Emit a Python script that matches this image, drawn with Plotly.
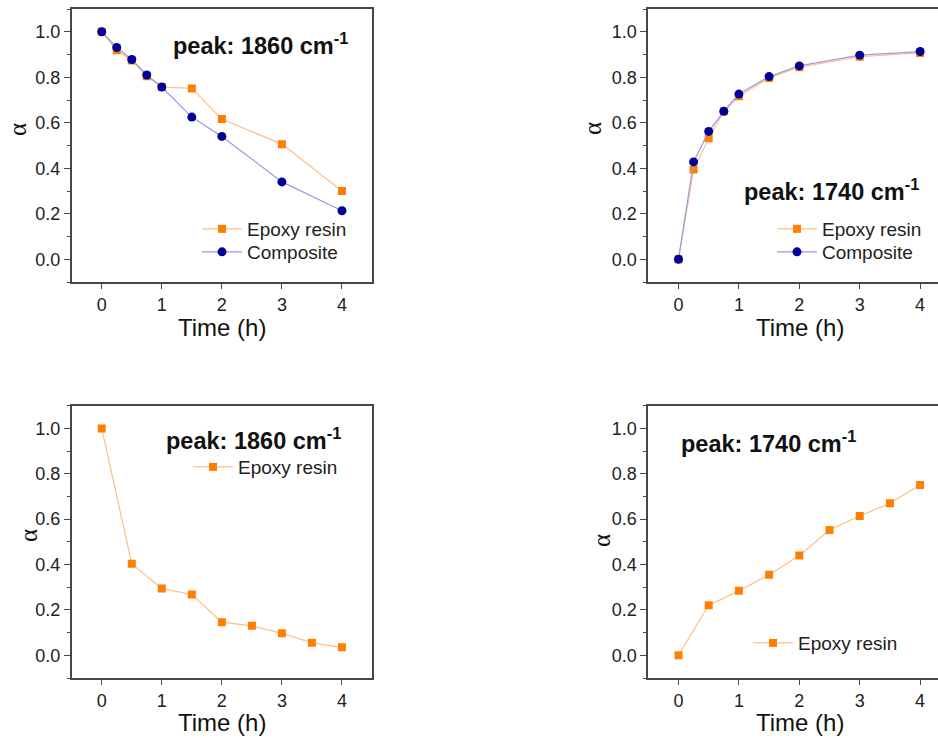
import plotly.graph_objects as go

# --- data -------------------------------------------------------------
# Upper row: 1860 cm-1 (left) and 1740 cm-1 (right), epoxy vs composite
t_top = [0, 0.25, 0.5, 0.75, 1, 1.5, 2, 3, 4]
a1860_epoxy = [1.0, 0.919, 0.874, 0.804, 0.757, 0.751, 0.616, 0.506, 0.300]
a1860_comp = [1.0, 0.931, 0.878, 0.810, 0.757, 0.625, 0.540, 0.340, 0.213]
a1740_epoxy = [0.0, 0.394, 0.532, 0.650, 0.716, 0.797, 0.844, 0.890, 0.907]
a1740_comp = [0.0, 0.428, 0.562, 0.650, 0.726, 0.803, 0.850, 0.897, 0.913]

# Lower row: epoxy resin only
t_bot = [0, 0.5, 1, 1.5, 2, 2.5, 3, 3.5, 4]
b1860_epoxy = [1.0, 0.404, 0.294, 0.268, 0.146, 0.130, 0.097, 0.055, 0.035]
b1740_epoxy = [0.0, 0.221, 0.284, 0.355, 0.440, 0.552, 0.614, 0.670, 0.751]

x_ticks = [0, 1, 2, 3, 4]
y_ticks = [0.0, 0.2, 0.4, 0.6, 0.8, 1.0]
y_ticktext = ["0.0", "0.2", "0.4", "0.6", "0.8", "1.0"]

# --- styling ------------------------------------------------------------
W, H = 938, 738
FONT = "Liberation Sans, Arial, sans-serif"
ORANGE = "#FF7F00"
ORANGE_LINE = "#FFBF80"
NAVY = "#000099"
BLUE_LINE = "#9A9AE6"
FRAME = "#474747"


def px_x(v):
    return v / W


def px_y(v):
    return 1 - v / H


fig = go.Figure()


def epoxy_trace(x, y, xa, ya, lg):
    return go.Scatter(
        x=x, y=y, xaxis=xa, yaxis=ya, name="Epoxy resin",
        mode="lines+markers",
        line=dict(color=ORANGE_LINE, width=1.2),
        marker=dict(symbol="square", size=8, color=ORANGE),
        legend=lg, showlegend=True,
    )


def comp_trace(x, y, xa, ya, lg):
    return go.Scatter(
        x=x, y=y, xaxis=xa, yaxis=ya, name="Composite",
        mode="lines+markers",
        line=dict(color=BLUE_LINE, width=1.2),
        marker=dict(symbol="circle", size=9, color=NAVY),
        legend=lg, showlegend=True,
    )


# one legend box per entry so the row spacing can be set freely
fig.add_trace(epoxy_trace(t_top, a1860_epoxy, "x", "y", "legend"))
fig.add_trace(comp_trace(t_top, a1860_comp, "x", "y", "legend2"))
fig.add_trace(epoxy_trace(t_top, a1740_epoxy, "x2", "y2", "legend3"))
fig.add_trace(comp_trace(t_top, a1740_comp, "x2", "y2", "legend4"))
fig.add_trace(epoxy_trace(t_bot, b1860_epoxy, "x3", "y3", "legend5"))
fig.add_trace(epoxy_trace(t_bot, b1740_epoxy, "x4", "y4", "legend6"))

# panel geometry (pixels)
left_dom = [px_x(71.7), px_x(372)]
right_dom = [px_x(648.3), 1.0]
top_dom = [px_y(282), px_y(9)]
bot_dom = [px_y(678), px_y(405.7)]

TICKFONT = dict(family=FONT, size=18, color="#222")


def xaxis(domain, anchor, rng):
    return dict(
        domain=domain, anchor=anchor, range=rng,
        tickvals=x_ticks, ticks="outside", ticklen=5, tickwidth=1.4,
        tickcolor=FRAME, showline=True, linecolor=FRAME, linewidth=1.8,
        mirror=True, showgrid=False, zeroline=False,
        tickfont=TICKFONT, fixedrange=True,
    )


def yaxis(domain, anchor, mirror):
    return dict(
        domain=domain, anchor=anchor, range=[-0.1, 1.1],
        tickvals=y_ticks, ticktext=y_ticktext,
        ticks="outside", ticklen=6, tickwidth=1.4, tickcolor=FRAME,
        minor=dict(tickvals=[-0.1, 0.1, 0.3, 0.5, 0.7, 0.9, 1.1],
                   ticks="outside", ticklen=3, tickwidth=1.4, tickcolor=FRAME),
        showline=True, linecolor=FRAME, linewidth=1.8, mirror=mirror,
        showgrid=False, zeroline=False,
        tickfont=TICKFONT, fixedrange=True,
    )


R_RANGE = [-0.5, 4.296]
fig.update_layout(
    xaxis=xaxis(left_dom, "y", [-0.5, 4.5]),
    yaxis=yaxis(top_dom, "x", True),
    xaxis2=xaxis(right_dom, "y2", R_RANGE),
    yaxis2=yaxis(top_dom, "x2", False),
    xaxis3=xaxis(left_dom, "y3", [-0.5, 4.5]),
    yaxis3=yaxis(bot_dom, "x3", True),
    xaxis4=xaxis(right_dom, "y4", R_RANGE),
    yaxis4=yaxis(bot_dom, "x4", False),
)


def legend_at(text_left_px, row_center_px):
    return dict(
        x=px_x(text_left_px - 50), y=px_y(row_center_px - 19),
        xanchor="left", yanchor="top",
        bgcolor="rgba(0,0,0,0)", borderwidth=0,
        font=dict(family=FONT, size=19, color="#222"),
        itemwidth=40,
    )


fig.update_layout(
    legend=legend_at(247, 229),
    legend2=legend_at(247, 252),
    legend3=legend_at(822, 229),
    legend4=legend_at(822, 252),
    legend5=legend_at(238, 467),
    legend6=legend_at(798, 643),
)

annotations = []

# peak labels
peaks = [
    ("peak: 1860 cm<sup>-1</sup>", 171, 44),
    ("peak: 1740 cm<sup>-1</sup>", 742, 190),
    ("peak: 1860 cm<sup>-1</sup>", 164, 439),
    ("peak: 1740 cm<sup>-1</sup>", 679, 442),
]
for txt, xp, yp in peaks:
    annotations.append(dict(
        text="<b>" + txt + "</b>", x=px_x(xp), y=px_y(yp),
        xref="paper", yref="paper", xanchor="left", yanchor="middle",
        showarrow=False, font=dict(family=FONT, size=23.5, color="#111"),
    ))

# axis titles
for xp, yp in [(222, 327), (800, 327), (222, 722), (800, 722)]:
    annotations.append(dict(
        text="Time (h)", x=px_x(xp), y=px_y(yp), xref="paper", yref="paper",
        xanchor="center", yanchor="middle", showarrow=False,
        font=dict(family=FONT, size=24, color="#111"),
    ))
for xp, yp in [(18, 130), (592, 129), (28, 536), (601, 541)]:
    annotations.append(dict(
        text="α", x=px_x(xp), y=px_y(yp), xref="paper", yref="paper",
        xanchor="center", yanchor="middle", showarrow=False, textangle=-90,
        font=dict(family="Liberation Serif, Times New Roman, serif", size=25,
                  color="#111"),
    ))

fig.update_layout(
    width=W, height=H,
    margin=dict(l=0, r=0, t=0, b=0),
    paper_bgcolor="white", plot_bgcolor="white",
    annotations=annotations,
)

fig.write_html("out.html", config={"displayModeBar": False})
